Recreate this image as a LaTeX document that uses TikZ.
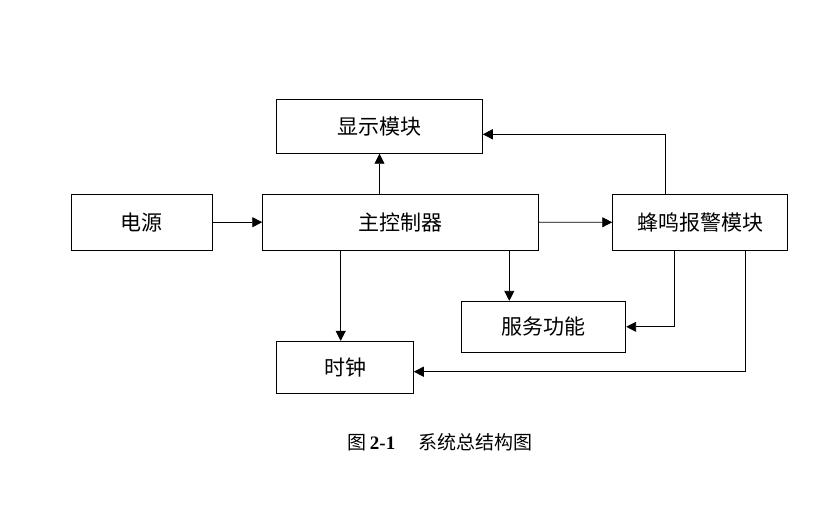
\documentclass[tikz,border=0pt]{standalone}
\usepackage{fontspec}
\setmainfont{Liberation Serif}
\newfontfamily\cjk{Noto Sans CJK SC}
\usetikzlibrary{arrows.meta}
\begin{document}
\begin{tikzpicture}[x=1bp,y=-1bp,
  blk/.style={draw,line width=0.9bp,inner sep=0pt,font=\cjk\fontsize{21bp}{25bp}\selectfont},
  arr/.style={line width=0.9bp,-{Triangle[length=10bp,width=10bp]}}]
\useasboundingbox[fill=white] (0,0) rectangle (840,505);
\node[blk,minimum width=205.6bp,minimum height=54bp] (disp) at (379.5,126.3) {显示模块};
\node[blk,minimum width=141bp,minimum height=55.7bp] (power) at (141.8,222.2) {电源};
\node[blk,minimum width=275.6bp,minimum height=55.7bp] (mcu) at (400.5,222.2) {主控制器};
\node[blk,minimum width=174.6bp,minimum height=56bp] (buzz) at (700,222.3) {蜂鸣报警模块};
\node[blk,minimum width=164.4bp,minimum height=51bp] (serv) at (543.5,326.8) {服务功能};
\node[blk,minimum width=136.6bp,minimum height=51.7bp] (clock) at (345,367.2) {时钟};
\coordinate (xa) at (340.7,0);
\coordinate (xb) at (509.3,0);
\coordinate (xc) at (674.3,0);
\coordinate (xd) at (745.3,0);
\coordinate (xe) at (665.7,0);
\draw[arr] (mcu.north -| disp.south) -- (disp.south);
\draw[arr] (buzz.north -| xe) |- ([yshift=-8bp]disp.east);
\draw[arr] (power.east) -- (mcu.west);
\draw[arr] (mcu.east) -- (buzz.west);
\draw[arr] (mcu.south -| xa) -- (clock.north -| xa);
\draw[arr] (mcu.south -| xb) -- (serv.north -| xb);
\draw[arr] (buzz.south -| xc) |- (serv.east);
\draw[arr] (buzz.south -| xd) |- ([yshift=-4.5bp]clock.east);
\node[font=\fontsize{19bp}{23bp}\selectfont] (cap) at (440,442) {{\cjk 图}\,\textbf{2-1}\hspace{23bp}{\cjk 系统总结构图}};
\end{tikzpicture}
\end{document}
